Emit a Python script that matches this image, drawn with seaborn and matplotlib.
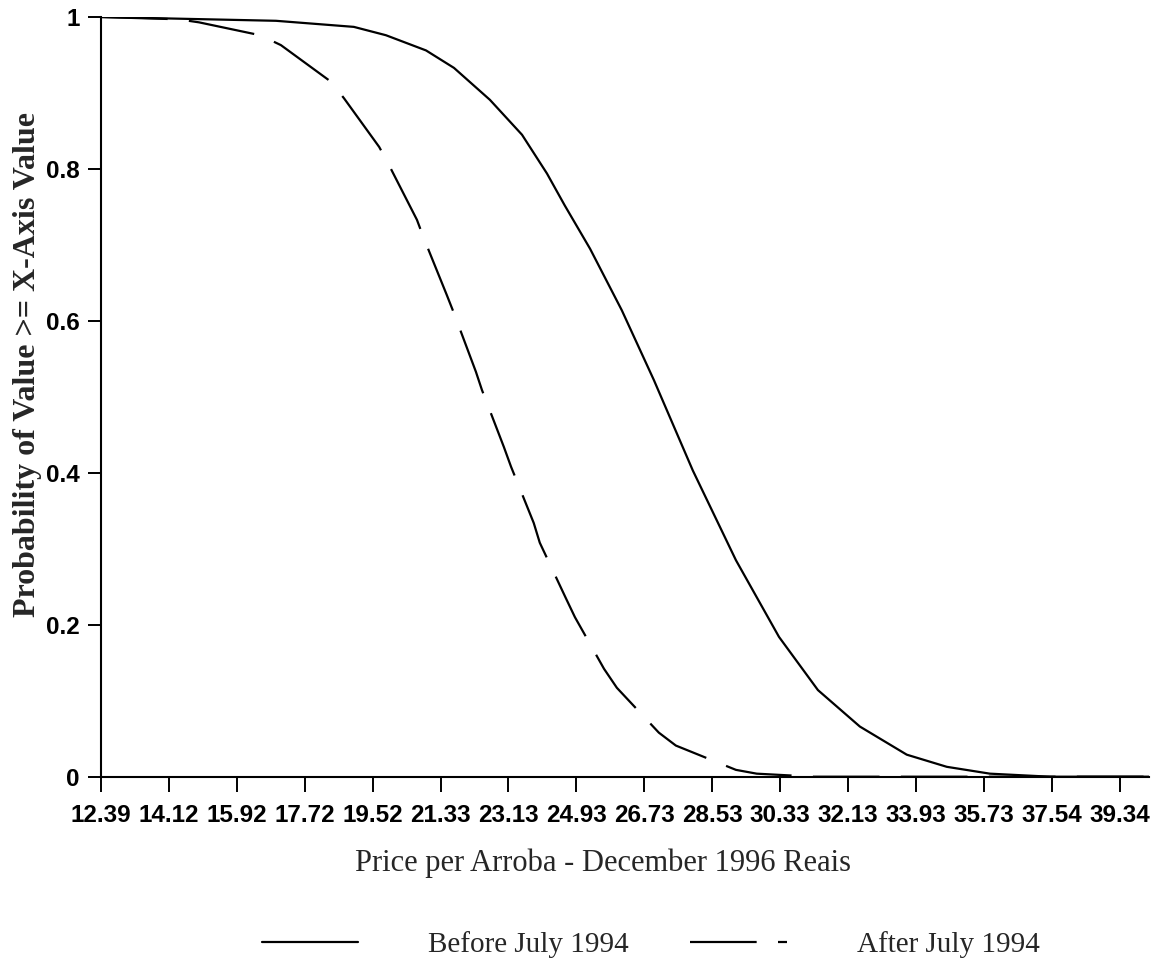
import numpy as np
import pandas as pd
import matplotlib
matplotlib.use("Agg")
import matplotlib.pyplot as plt
import seaborn as sns

# ---- data ----
before_price = [12.39, 17.02, 19.08, 19.93, 20.99, 21.73, 22.68, 23.53, 24.19, 24.66,
                25.33, 26.17, 27.02, 28.05, 29.19, 30.33, 31.36, 32.47, 33.71, 34.77,
                35.91, 37.50, 40.12]
before_prob = [1.000, 0.995, 0.987, 0.976, 0.956, 0.933, 0.891, 0.845, 0.794, 0.752,
               0.695, 0.614, 0.522, 0.403, 0.285, 0.184, 0.114, 0.066, 0.029, 0.013,
               0.004, 0.000, 0.000]

after_price = [12.39, 14.43, 14.98, 16.60, 17.15, 18.47, 18.82, 19.75, 19.98, 20.75,
               20.93, 21.54, 21.73, 22.31, 22.47, 23.05, 23.24, 23.84, 24.00, 24.69,
               24.93, 25.70, 26.04, 27.15, 27.60, 29.19, 29.74, 31.25, 40.12]
after_prob = [1.000, 0.997, 0.993, 0.976, 0.963, 0.915, 0.893, 0.829, 0.808, 0.733,
              0.709, 0.634, 0.610, 0.533, 0.509, 0.434, 0.408, 0.334, 0.308, 0.235,
              0.210, 0.142, 0.117, 0.058, 0.041, 0.009, 0.004, 0.000, 0.000]

series_names = ["Before July 1994", "After July 1994"]
x_tick_labels = ["12.39", "14.12", "15.92", "17.72", "19.52", "21.33", "23.13", "24.93",
                 "26.73", "28.53", "30.33", "32.13", "33.93", "35.73", "37.54", "39.34"]
y_ticks = [0, 0.2, 0.4, 0.6, 0.8, 1]
y_tick_labels = ["0", "0.2", "0.4", "0.6", "0.8", "1"]

df = pd.concat([
    pd.DataFrame({"price": before_price, "prob": before_prob, "series": series_names[0]}),
    pd.DataFrame({"price": after_price, "prob": after_prob, "series": series_names[1]}),
], ignore_index=True)

sns.set_style("ticks")
plt.rcParams["font.family"] = ["Liberation Sans", "DejaVu Sans"]

fig = plt.figure(figsize=(11.6, 9.68), dpi=100)
ax = fig.add_axes([101 / 1160, (968 - 776.7) / 968, 1048 / 1160, 759.7 / 968])

sns.lineplot(data=df, x="price", y="prob", style="series", style_order=series_names,
             dashes={series_names[0]: "", series_names[1]: (30, 9.6)},
             color="black", linewidth=1.6, ax=ax, legend=True, sort=False,
             estimator=None)

handles, labels = ax.get_legend_handles_labels()
if ax.get_legend() is not None:
    ax.get_legend().remove()

ax.set_xlim(12.39, 40.12)
ax.set_ylim(0, 1)
ax.set_xticks(np.linspace(12.39, 39.34, len(x_tick_labels)))
ax.set_xticklabels(x_tick_labels, fontsize=17.5, fontfamily="Liberation Sans",
                   fontweight="bold")
ax.set_yticks(y_ticks)
ax.set_yticklabels(y_tick_labels, fontsize=17.5, fontfamily="Liberation Sans",
                   fontweight="bold")

ax.tick_params(axis="x", length=10.8, width=1.4, pad=9, colors="black")
ax.tick_params(axis="y", length=9.4, width=1.4, pad=6, colors="black")

for s in ["top", "right"]:
    ax.spines[s].set_visible(False)
for s in ["left", "bottom"]:
    ax.spines[s].set_linewidth(1.5)
    ax.spines[s].set_color("black")

ax.set_xlabel("Price per Arroba - December 1996 Reais", fontsize=22,
              fontfamily="Liberation Serif")
ax.xaxis.set_label_coords(0.479, -0.0945)
ax.set_ylabel("Probability of Value >= X-Axis Value", fontsize=23,
              fontfamily="Liberation Serif", fontweight="bold")
ax.yaxis.set_label_coords(-0.056, 0.542)

fig.legend(handles, labels, loc="center", bbox_to_anchor=(0.561, 0.024), ncol=2,
           frameon=False, prop={"family": "Liberation Serif", "size": 21},
           handlelength=3.3, handletextpad=2.4, columnspacing=2.1)

fig.savefig("out.png", dpi=100, facecolor="white")
